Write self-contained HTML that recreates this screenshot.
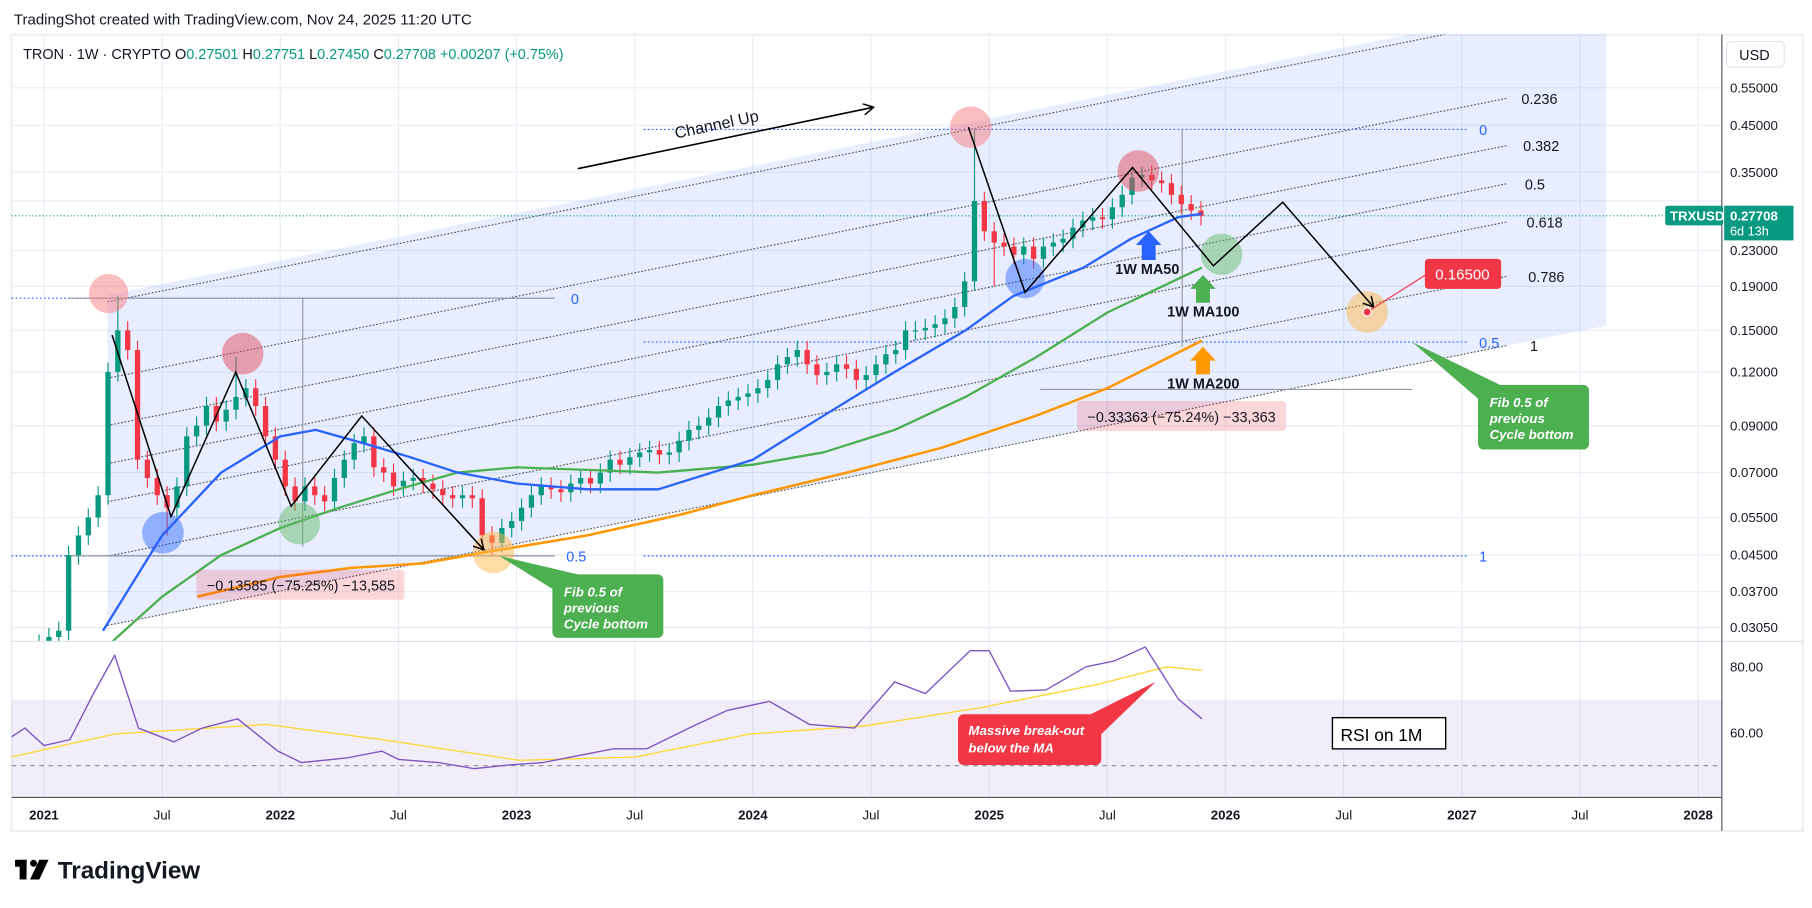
<!DOCTYPE html>
<html><head><meta charset="utf-8">
<style>
html,body{margin:0;padding:0;background:#fff;width:1812px;height:908px;overflow:hidden}
svg{display:block}
text{font-family:"Liberation Sans",sans-serif}
</style></head>
<body>
<svg id="chart" width="1812" height="908" viewBox="0 0 1568 785.7" preserveAspectRatio="none" xmlns="http://www.w3.org/2000/svg">
<rect x="0" y="0" width="1568" height="786" fill="#fff"/>
<text x="12" y="21" font-size="13" fill="#131722">TradingShot created with TradingView.com, Nov 24, 2025 11:20 UTC</text>
<rect x="10" y="30" width="1550" height="689" fill="none" stroke="#eef0f3" stroke-width="2"/>
<g id="grid"></g>
<g id="shade"></g>
<g id="main"></g>
<g id="rsi"></g>
<g id="anno"></g>
<g id="axes"></g>
</svg>
<script>
// ===== data =====
const priceTicks=[0.55,0.45,0.35,0.30,0.23,0.19,0.15,0.12,0.09,0.07,0.055,0.045,0.037,0.0305];
const priceTickLabels=["0.55000","0.45000","0.35000","0.30000","0.23000","0.19000","0.15000","0.12000","0.09000","0.07000","0.05500","0.04500","0.03700","0.03050"];
const timeTicks=[2021,2021.5,2022,2022.5,2023,2023.5,2024,2024.5,2025,2025.5,2026,2026.5,2027,2027.5,2028];
const timeTickLabels=["2021","Jul","2022","Jul","2023","Jul","2024","Jul","2025","Jul","2026","Jul","2027","Jul","2028"];
const rsiTicks=[80,60];
// biweekly closes from Dec 2020 to Nov 2025
const closes=[0.027,0.028,0.029,0.030,0.045,0.050,0.055,0.062,0.120,0.150,0.135,0.075,0.068,0.062,0.058,0.065,0.085,0.090,0.100,0.092,0.098,0.105,0.110,0.100,0.085,0.075,
0.065,0.060,0.065,0.062,0.060,0.068,0.075,0.082,0.085,0.072,0.070,0.065,0.067,0.068,0.066,0.064,0.062,0.061,0.062,0.061,0.050,0.048,0.052,0.054,
0.058,0.062,0.065,0.064,0.063,0.066,0.068,0.066,0.070,0.075,0.073,0.076,0.078,0.079,0.077,0.078,0.083,0.088,0.090,0.094,0.100,0.103,0.105,0.107,
0.110,0.115,0.125,0.130,0.135,0.125,0.118,0.120,0.125,0.122,0.115,0.118,0.125,0.132,0.135,0.150,0.150,0.152,0.155,0.160,0.170,0.195,0.300,0.255,
0.240,0.235,0.225,0.235,0.220,0.235,0.240,0.245,0.260,0.270,0.275,0.272,0.290,0.310,0.340,0.345,0.335,0.330,0.310,0.295,0.285,0.277];
const firstOpen=0.026;
const spikeHighIdx=[9,21,96,113];
const spikeHighVal=[0.18,0.13,0.44,0.36];
const spikeLowIdx=[14,47,98];
const spikeLowVal=[0.05,0.045,0.19];
const ma50Dates=[2021.25,2021.5,2021.75,2022.0,2022.15,2022.35,2022.55,2022.75,2023.0,2023.3,2023.6,2024.0,2024.3,2024.6,2024.9,2025.1,2025.4,2025.6,2025.8,2025.9];
const ma50Vals=[0.030,0.050,0.070,0.085,0.088,0.082,0.076,0.070,0.066,0.064,0.064,0.075,0.095,0.12,0.15,0.18,0.21,0.245,0.275,0.28];
const ma100Dates=[2021.28,2021.5,2021.75,2022.0,2022.25,2022.5,2022.75,2023.0,2023.3,2023.6,2024.0,2024.3,2024.6,2024.9,2025.2,2025.5,2025.9];
const ma100Vals=[0.028,0.036,0.045,0.052,0.058,0.064,0.070,0.072,0.071,0.070,0.073,0.078,0.088,0.105,0.13,0.165,0.21];
const ma200Dates=[2021.65,2022.0,2022.3,2022.6,2022.9,2023.3,2023.7,2024.0,2024.4,2024.8,2025.2,2025.5,2025.9];
const ma200Vals=[0.036,0.040,0.042,0.043,0.046,0.050,0.056,0.062,0.070,0.080,0.095,0.110,0.142];
const rsiDates=[2020.86,2020.92,2021.0,2021.11,2021.21,2021.30,2021.40,2021.55,2021.67,2021.82,2021.99,2022.09,2022.28,2022.43,2022.50,2022.67,2022.82,2022.97,2023.11,2023.23,2023.41,2023.55,2023.75,2023.89,2024.07,2024.24,2024.43,2024.60,2024.73,2024.92,2025.0,2025.09,2025.24,2025.41,2025.53,2025.66,2025.80,2025.90];
const rsiVals=[58.6,61.4,56.1,57.9,71.9,83.5,61.4,57.2,61.4,64.2,54.4,50.9,52.3,54.4,51.9,50.9,49.1,50.2,50.9,52.6,55.1,55.1,62.1,66.7,69.5,62.5,61.4,75.4,71.9,84.9,84.9,72.6,73.0,80,81.8,86,70.2,64.2];
const rsiMaDates=[2020.86,2021.30,2021.94,2022.43,2023.01,2023.50,2023.99,2024.48,2024.97,2025.46,2025.75,2025.90];
const rsiMaVals=[52.6,59.6,62.5,57.9,51.6,52.6,59.6,62.1,67.7,74.7,80,78.9];
const fibLevels=[0,0.236,0.382,0.5,0.618,0.786,1];
const fibLabels=["","0.236","0.382","0.5","0.618","0.786","1"];
const currentPrice=0.27708;

// ===== scales =====
const PL=10,PR=1490,MT=30,MB=555,RT=555,RB=690;
const X=t=>38+(t-2021)*204.5;
const Y=p=>76+(Math.log(0.55)-Math.log(p))*161.5;
const R=v=>577-(v-80)*2.85;
const NS="http://www.w3.org/2000/svg";
function mk(tag,attrs,parent,txt){const e=document.createElementNS(NS,tag);for(const k in attrs)e.setAttribute(k,attrs[k]);if(txt!==undefined)e.textContent=txt;parent.appendChild(e);return e;}
const G=id=>document.getElementById(id);
const grid=G('grid'),shade=G('shade'),main=G('main'),rsi=G('rsi'),anno=G('anno'),axes=G('axes');

const defs=mk('defs',{},G('chart'));
const cp=mk('clipPath',{id:'mainclip'},defs);mk('rect',{x:PL,y:MT,width:PR-PL,height:MB-MT},cp);
const cp2=mk('clipPath',{id:'rsiclip'},defs);mk('rect',{x:PL,y:RT,width:PR-PL,height:RB-RT},cp2);
main.setAttribute('clip-path','url(#mainclip)');shade.setAttribute('clip-path','url(#mainclip)');rsi.setAttribute('clip-path','url(#rsiclip)');

priceTicks.forEach((p,i)=>{const l=mk('line',{x1:PL,x2:PR,y1:Y(p),y2:Y(p),stroke:'#e8eef6','stroke-width':1},grid);

});
timeTicks.forEach(t=>{const l=mk('line',{x1:X(t),x2:X(t),y1:MT,y2:RB,stroke:'#e8eef6','stroke-width':1},grid);

});

// channel
const ytop=x=>260-0.2*(x-99), CW=280;
const sx1=93,sx2=1390;
const sh=mk('polygon',{points:`${sx1},${ytop(sx1)-6} ${sx2},${ytop(sx2)-6} ${sx2},${ytop(sx2)+CW} ${sx1},${ytop(sx1)+CW}`,fill:'rgba(41,98,255,0.11)'},shade);


fibLevels.forEach((f,i)=>{const x1=93,x2=1305;
const l=mk('line',{x1:x1,x2:x2,y1:ytop(x1)+f*CW,y2:ytop(x2)+f*CW,stroke:'#555','stroke-width':1,'stroke-dasharray':'1.5,1.5'},shade);


if(fibLabels[i]){const t=mk('text',{x:x2+10+i*1.5,y:ytop(x2)+f*CW+5,'font-size':12.5,fill:'#131722'},anno,fibLabels[i]);

}});

[[10,480,258,'0',494],[10,480,481,'0.5',490],[557,1270,112,'0',1280],[557,1270,296,'0.5',1280],[557,1270,481,'1',1280]].forEach(r=>{
const l=mk('line',{x1:r[0],x2:r[1],y1:r[2],y2:r[2],stroke:'#2962ff','stroke-width':1,'stroke-dasharray':'1.5,2'},shade);


const t=mk('text',{x:r[4],y:r[2]+5,'font-size':12.5,fill:'#2962ff'},anno,r[3]);

});
[[60,480,258,258],[262,262,258,473],[900,1222,337,337],[1023,1023,112,300],[60,480,481,481]].forEach(r=>{
const l=mk('line',{x1:r[0],x2:r[1],y1:r[2],y2:r[3],stroke:'#9598a1','stroke-width':1},shade);

});

const cpl=mk('line',{x1:PL,x2:PR,y1:Y(currentPrice),y2:Y(currentPrice),stroke:'#089981','stroke-width':1,'stroke-dasharray':'1,2'},shade);



const T0=2020.917;
closes.forEach((c,i)=>{
const o=i===0?firstOpen:closes[i-1];
const t=T0+i/24+1/48, x=X(t);
let hi=Math.max(o,c)*1.05, lo=Math.min(o,c)*0.95;
const hs=spikeHighIdx.indexOf(i); if(hs>=0)hi=spikeHighVal[hs];
const ls=spikeLowIdx.indexOf(i); if(ls>=0)lo=spikeLowVal[ls];
const col=c>=o?'#089981':'#f23645';
const g=mk('g',{},main);


mk('line',{x1:x,x2:x,y1:Y(hi),y2:Y(lo),stroke:col,'stroke-width':1},g);
const yt=Y(Math.max(o,c)),yb=Y(Math.min(o,c));
mk('rect',{x:x-2.3,y:yt,width:4.6,height:Math.max(1,yb-yt),fill:col},g);
});

function line(dates,vals,sy,parent,color,w,name){
const d=dates.map((t,i)=>(i?'L':'M')+X(t).toFixed(1)+','+sy(vals[i]).toFixed(1)).join(' ');
const p=mk('path',{d:d,fill:'none',stroke:color,'stroke-width':w,'stroke-linejoin':'round'},parent);

}
line(ma200Dates,ma200Vals,Y,main,'#ff9800',2.2,'ma200-line');
line(ma100Dates,ma100Vals,Y,main,'#4caf50',2,'ma100-line');
line(ma50Dates,ma50Vals,Y,main,'#2962ff',2,'ma50-line');

const rb=mk('rect',{x:PL,y:R(70),width:PR-PL,height:R(30)-R(70),fill:'rgba(126,87,194,0.1)'},rsi);


const rm=mk('line',{x1:PL,x2:PR,y1:R(50),y2:R(50),stroke:'#9598a1','stroke-dasharray':'4,4','stroke-width':1},rsi);


line(rsiMaDates,rsiMaVals,R,rsi,'#fdd835',1.2,'rsi-ma-line');
line(rsiDates,rsiVals,R,rsi,'#7e57c2',1.2,'rsi-line');
const sep=mk('line',{x1:PL,x2:1560,y1:RT,y2:RT,stroke:'#e0e3eb','stroke-width':1},axes);



mk('line',{x1:PR,x2:PR,y1:MT,y2:719,stroke:'#50535e','stroke-width':1},axes);
mk('line',{x1:PL,x2:PR,y1:RB,y2:RB,stroke:'#50535e','stroke-width':1},axes);
priceTicks.forEach((p,i)=>{if(i===3)return;const t=mk('text',{x:1497,y:Y(p)+4,'font-size':11.5,fill:'#131722'},axes,priceTickLabels[i]);

});
rsiTicks.forEach(v=>{const t=mk('text',{x:1497,y:R(v)+4,'font-size':11.5,fill:'#131722'},axes,v.toFixed(2));

});
timeTicks.forEach((tt,i)=>{const bold=timeTickLabels[i]!=='Jul';
const t=mk('text',{x:X(tt),y:709,'font-size':11.5,'text-anchor':'middle',fill:'#131722','font-weight':bold?'bold':'normal'},axes,timeTickLabels[i]);

});
</script>

<svg style="position:absolute;left:0;top:0" width="1812" height="908" viewBox="0 0 1568 785.7" preserveAspectRatio="none" xmlns="http://www.w3.org/2000/svg">
<defs><marker id="ah" markerWidth="10" markerHeight="10" refX="8" refY="5" orient="auto" markerUnits="userSpaceOnUse"><path d="M0,0 L9,5 L0,10" fill="none" stroke="#000" stroke-width="1.3"/></marker></defs>
<text x="20" y="51" font-size="12.5" fill="#131722">TRON · 1W · CRYPTO  O<tspan fill="#089981">0.27501</tspan>  H<tspan fill="#089981">0.27751</tspan>  L<tspan fill="#089981">0.27450</tspan>  C<tspan fill="#089981">0.27708 +0.00207 (+0.75%)</tspan></text>
<g><rect x="1494" y="36" width="50" height="22" rx="4" fill="#fff" stroke="#e0e3eb"/><text x="1505" y="52" font-size="12.5" fill="#131722">USD</text></g>
<g><rect x="1441" y="178" width="50" height="17" rx="2" fill="#089981"/><text x="1445" y="191" font-size="11.5" font-weight="bold" fill="#fff">TRXUSD</text>
<rect x="1492" y="178" width="60" height="30" fill="#089981"/><text x="1497" y="191" font-size="11.5" font-weight="bold" fill="#fff">0.27708</text><text x="1497" y="204" font-size="11" fill="#fff">6d 13h</text></g>
<g><line x1="500" y1="146" x2="755" y2="93" stroke="#000" stroke-width="1.4" marker-end="url(#ah)"/><text x="585" y="120" font-size="14" fill="#131722" transform="rotate(-12 585 120)">Channel Up</text></g>
<g opacity="0.5">
<circle cx="94" cy="254" r="17" fill="#f77c80"/><circle cx="210" cy="306" r="18" fill="#e14d5c"/><circle cx="840" cy="110" r="18" fill="#f77c80"/><circle cx="985" cy="148" r="18" fill="#e14d5c"/>
<circle cx="141" cy="461" r="18" fill="#2962ff" opacity="0.9"/><circle cx="887" cy="241" r="17" fill="#2962ff" opacity="0.9"/>
<circle cx="259" cy="453" r="18" fill="#66bb6a"/><circle cx="1057" cy="220" r="18" fill="#66bb6a"/>
<circle cx="427" cy="478" r="18" fill="#ffb74d"/><circle cx="1183" cy="270" r="18" fill="#ffb74d"/></g>
<polyline points="97,290 148,447 204,322 252,438 313,360 418,475" fill="none" stroke="#000" stroke-width="1.3" marker-end="url(#ah)"/>
<polyline points="838,110 887,253 980,145 1050,230 1110,175 1188,265" fill="none" stroke="#000" stroke-width="1.3" marker-end="url(#ah)"/>
<g><path d="M988,225 V212 H983 L994,200 L1005,212 H1000 V225 Z" fill="#2962ff"/><text x="965" y="237" font-size="12.5" font-weight="bold" fill="#131722">1W MA50</text></g>
<g><path d="M1035,262 V250 H1030 L1041,238 L1052,250 H1047 V262 Z" fill="#4caf50"/><text x="1010" y="274" font-size="12.5" font-weight="bold" fill="#131722">1W MA100</text></g>
<g><path d="M1035,324 V312 H1030 L1041,300 L1052,312 H1047 V324 Z" fill="#ff9800"/><text x="1010" y="336" font-size="12.5" font-weight="bold" fill="#131722">1W MA200</text></g>
<g><rect x="170" y="493" width="180" height="26" rx="3" fill="rgba(242,54,69,0.2)"/><text x="179" y="511" font-size="12.5" fill="#131722">−0.13585 (−75.25%) −13,585</text></g>
<g><rect x="932" y="347" width="181" height="26" rx="3" fill="rgba(242,54,69,0.2)"/><text x="941" y="365" font-size="12.5" fill="#131722">−0.33363 (−75.24%) −33,363</text></g>
<g><polygon points="432,481 500,497 482,512" fill="#4caf50"/><rect x="478" y="497" width="96" height="55" rx="5" fill="#4caf50"/><text font-size="11.5" font-weight="bold" font-style="italic" fill="#fff"><tspan x="488" y="516">Fib 0.5 of</tspan><tspan x="488" y="530">previous</tspan><tspan x="488" y="544">Cycle bottom</tspan></text></g>
<g><polygon points="1222,296 1300,334 1285,350" fill="#4caf50"/><rect x="1279" y="333" width="96" height="56" rx="5" fill="#4caf50"/><text font-size="11.5" font-weight="bold" font-style="italic" fill="#fff"><tspan x="1289" y="352">Fib 0.5 of</tspan><tspan x="1289" y="366">previous</tspan><tspan x="1289" y="380">Cycle bottom</tspan></text></g>
<g><line x1="1183" y1="270" x2="1235" y2="237" stroke="#f23645" stroke-width="1"/><circle cx="1183" cy="270" r="3.5" fill="#f23645" stroke="#fff" stroke-width="1"/><rect x="1233" y="224" width="66" height="26" rx="3" fill="#f23645"/><text x="1242" y="242" font-size="13" fill="#fff">0.16500</text></g>
<g><rect x="1153" y="621" width="98" height="27" fill="#fff" stroke="#000" stroke-width="1.2"/><text x="1160" y="641" font-size="15" fill="#000">RSI on 1M</text></g>
<g><polygon points="1000,590 930,625 948,640" fill="#f23645"/><rect x="829" y="618" width="124" height="44" rx="5" fill="#f23645"/><text font-size="11.5" font-weight="bold" font-style="italic" fill="#fff"><tspan x="838" y="636">Massive break-out</tspan><tspan x="838" y="651">below the MA</tspan></text></g>
<g><rect x="13" y="744" width="10" height="6" fill="#000"/><rect x="17" y="744" width="6" height="17" fill="#000"/><circle cx="29" cy="747" r="3" fill="#000"/><polygon points="34,744 42,744 34,761 26,761" fill="#000"/><text x="50" y="760" font-size="21" font-weight="bold" fill="#131722">TradingView</text></g>
</svg>
</body></html>
